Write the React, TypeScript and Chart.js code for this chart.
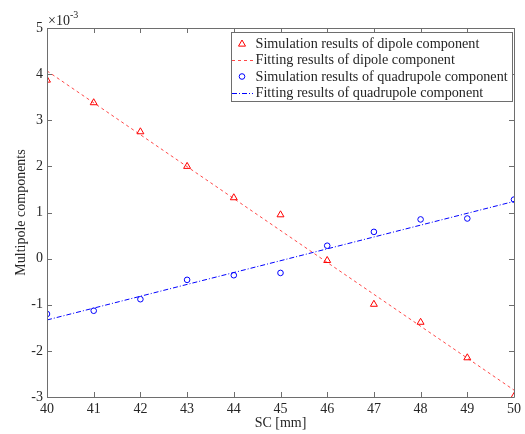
import React, { useEffect, useRef } from "react";
import { Chart, registerables } from "chart.js";

Chart.register(...registerables);

const scValues = [40, 41, 42, 43, 44, 45, 46, 47, 48, 49, 50];
const dipoleSim = [3.87, 3.38, 2.75, 2.0, 1.32, 0.95, -0.04, -0.99, -1.38, -2.15, -2.99];
const quadSim = [-1.2, -1.13, -0.88, -0.46, -0.36, -0.31, 0.28, 0.58, 0.85, 0.87, 1.28];
const fitX = [40, 50];
const dipoleFit = [4.07, -2.85];
const quadFit = [-1.33, 1.24];
const xTicks = [40, 41, 42, 43, 44, 45, 46, 47, 48, 49, 50];
const yTicks = [-3, -2, -1, 0, 1, 2, 3, 4, 5];
const legendLabels = [
  "Simulation results of dipole component",
  "Fitting results of dipole component",
  "Simulation results of quadrupole component",
  "Fitting results of quadrupole component",
];
const exponentBase = "\u00d710";
const exponentPower = "-3";

const FONT = "'Liberation Serif', 'Times New Roman', serif";
const TEXT = "#262626";
const AXIS = "#6e6e6e";
const RED = "#ff0000";
const BLUE = "#0000ff";

const framePlugin = {
  id: "framePlugin",
  afterDraw(chart: any) {
    const { ctx, chartArea } = chart;
    const { left, right, top, bottom } = chartArea;
    const xs = chart.scales.x;
    const ys = chart.scales.y;
    ctx.save();
    ctx.strokeStyle = AXIS;
    ctx.lineWidth = 1;
    ctx.beginPath();
    ctx.rect(Math.round(left) + 0.5, Math.round(top) + 0.5, Math.round(right - left), Math.round(bottom - top));
    ctx.stroke();
    const tl = 5;
    ctx.beginPath();
    xTicks.forEach((v) => {
      const px = Math.round(xs.getPixelForValue(v)) + 0.5;
      ctx.moveTo(px, bottom);
      ctx.lineTo(px, bottom - tl);
      ctx.moveTo(px, top);
      ctx.lineTo(px, top + tl);
    });
    yTicks.forEach((v) => {
      const py = Math.round(ys.getPixelForValue(v)) + 0.5;
      ctx.moveTo(left, py);
      ctx.lineTo(left + tl, py);
      ctx.moveTo(right, py);
      ctx.lineTo(right - tl, py);
    });
    ctx.stroke();

    // exponent label
    ctx.fillStyle = TEXT;
    ctx.textBaseline = "alphabetic";
    ctx.textAlign = "left";
    ctx.font = `14px ${FONT}`;
    const ex = left + 1;
    ctx.fillText(exponentBase, ex, top - 3);
    const w = ctx.measureText(exponentBase).width;
    ctx.font = `10px ${FONT}`;
    ctx.fillText(exponentPower, ex + w, top - 10);

    // legend
    const lx = 231;
    const ly = 32;
    const lw = 281;
    const lh = 69;
    ctx.fillStyle = "#ffffff";
    ctx.fillRect(lx, ly, lw, lh);
    ctx.strokeStyle = AXIS;
    ctx.strokeRect(lx + 0.5, ly + 0.5, lw, lh);
    ctx.font = `14.2px ${FONT}`;
    ctx.textBaseline = "middle";
    const rowY = [43.5, 60, 76.5, 93];
    const datasets = chart.data.datasets;
    rowY.forEach((yy, i) => {
      const ds = datasets[i];
      ctx.fillStyle = TEXT;
      ctx.fillText(legendLabels[i], 255.5, yy + 0.5);
      if (ds.showLine === false) {
        ctx.strokeStyle = ds.borderColor;
        ctx.lineWidth = 1;
        ctx.setLineDash([]);
        const cx = 242;
        if (ds.pointStyle === "triangle") {
          const r = 3.5;
          ctx.beginPath();
          ctx.moveTo(cx, yy - r);
          ctx.lineTo(cx + r, yy + r * 0.75);
          ctx.lineTo(cx - r, yy + r * 0.75);
          ctx.closePath();
          ctx.stroke();
        } else {
          ctx.beginPath();
          ctx.arc(cx, yy, 2.8, 0, Math.PI * 2);
          ctx.stroke();
        }
      } else {
        ctx.strokeStyle = ds.borderColor;
        ctx.lineWidth = 1;
        ctx.setLineDash(ds.borderDash || []);
        ctx.beginPath();
        ctx.moveTo(232, Math.round(yy) + 0.5);
        ctx.lineTo(253, Math.round(yy) + 0.5);
        ctx.stroke();
        ctx.setLineDash([]);
      }
    });
    ctx.restore();
  },
};

export default function App() {
  const ref = useRef<HTMLCanvasElement | null>(null);
  useEffect(() => {
    if (!ref.current) return;
    const chart = new Chart(ref.current, {
      type: "scatter",
      data: {
        datasets: [
          {
            label: legendLabels[0],
            data: scValues.map((x, i) => ({ x, y: dipoleSim[i] })),
            showLine: false,
            pointStyle: "triangle",
            pointRadius: 4,
            borderColor: RED,
            backgroundColor: "rgba(0,0,0,0)",
            borderWidth: 1,
          },
          {
            label: legendLabels[1],
            data: fitX.map((x, i) => ({ x, y: dipoleFit[i] })),
            showLine: true,
            pointRadius: 0,
            borderColor: "rgba(255,40,40,0.85)",
            borderWidth: 1,
            borderDash: [3, 3],
          },
          {
            label: legendLabels[2],
            data: scValues.map((x, i) => ({ x, y: quadSim[i] })),
            showLine: false,
            pointStyle: "circle",
            pointRadius: 2.8,
            borderColor: BLUE,
            backgroundColor: "rgba(0,0,0,0)",
            borderWidth: 1,
          },
          {
            label: legendLabels[3],
            data: fitX.map((x, i) => ({ x, y: quadFit[i] })),
            showLine: true,
            pointRadius: 0,
            borderColor: BLUE,
            borderWidth: 1,
            borderDash: [5, 2, 1, 2],
          },
        ],
      },
      options: {
        responsive: false,
        animation: false,
        devicePixelRatio: 1,
        layout: { padding: { top: 28, right: 9, left: 0, bottom: 0 } },
        plugins: { legend: { display: false }, tooltip: { enabled: false } },
        scales: {
          x: {
            type: "linear",
            min: 40,
            max: 50,
            afterBuildTicks: (s: any) => {
              s.ticks = xTicks.map((v) => ({ value: v }));
            },
            afterFit: (s: any) => {
              s.height = 37;
            },
            grid: { display: false, drawTicks: false },
            border: { display: false },
            ticks: {
              padding: 4,
              color: TEXT,
              font: { family: FONT, size: 14 },
              maxRotation: 0,
              autoSkip: false,
            },
            title: {
              display: true,
              text: "SC [mm]",
              color: TEXT,
              font: { family: FONT, size: 14 },
              padding: { top: 0, bottom: 2 },
            },
          },
          y: {
            type: "linear",
            min: -3,
            max: 5,
            afterBuildTicks: (s: any) => {
              s.ticks = yTicks.map((v) => ({ value: v }));
            },
            afterFit: (s: any) => {
              s.width = 47;
            },
            grid: { display: false, drawTicks: false },
            border: { display: false },
            ticks: {
              padding: 4,
              color: TEXT,
              font: { family: FONT, size: 14 },
              autoSkip: false,
            },
            title: {
              display: true,
              text: "Multipole components",
              color: TEXT,
              font: { family: FONT, size: 14 },
              padding: { top: 13, bottom: 0 },
            },
          },
        },
      },
      plugins: [framePlugin],
    });
    return () => chart.destroy();
  }, []);
  return (
    <div style={{ position: "fixed", left: 0, top: 0, width: 525, height: 434, background: "#fff" }}>
      <canvas ref={ref} width={525} height={434} style={{ display: "block", width: 525, height: 434 }} />
    </div>
  );
}
